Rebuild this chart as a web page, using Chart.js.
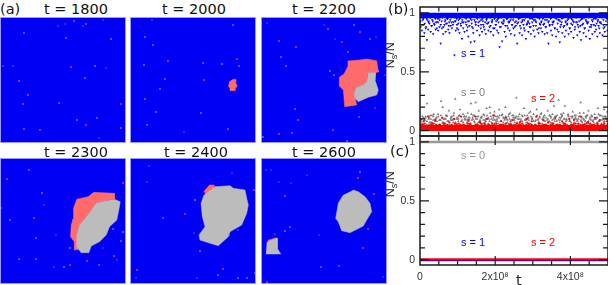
<!DOCTYPE html>
<html>
<head>
<meta charset="utf-8">
<script src="https://cdn.jsdelivr.net/npm/chart.js@4/dist/chart.umd.min.js"></script>
<style>
    html, body { margin: 0; background: #fff; }
    #page { position: relative; width: 611px; height: 285px; overflow: hidden; }
    canvas { position: absolute; }
    .lbl { position: absolute; white-space: nowrap; font-family: "DejaVu Sans"; color: #111; line-height: 1; }
    .ttl { font-size: 14.5px; }
    .sl { font-family: "Liberation Sans"; font-size: 11px; }
    .ns { font-family: "Liberation Sans"; font-size: 12.5px; color: #222; transform: rotate(-90deg); transform-origin: center; }
    .ns sub { font-size: 9px; line-height: 0; }
</style>
</head>
<body>
<div id="page"></div>
<script>
// snapshot panels (a): cell positions in panel units, origin top left
const panelTimes = [1800, 2000, 2200, 2300, 2400, 2600];

const red1800 = [[74,4],[86,7],[28,78],[23,87],[121,87],[24,112],[40,113],[86,108],[19,64],[71,50]];
const purple1800 = [[58,9],[65,7],[83,9],[103,3],[106,51],[3,49],[13,49],[99,121]];
const lilac1800 = [[24,16],[66,21],[111,22],[95,49],[85,61],[59,86],[77,103],[97,101],[121,111]];

const blobRed2000 = [[99.3,64.7],[103.3,62.3],[105.7,62.3],[105.7,66.3],[107.3,69],[105.3,71.3],[105,73.7],[100.7,73.7],[100,71.3],[98.3,69]];
const red2000 = [[38,44],[98,112],[74,63],[107,42]];
const purple2000 = [[22,3],[54,115]];
const lilac2000 = [[15,20],[23,28],[14,48],[35,62],[30,72],[15,82],[26,95],[17,108],[103,8],[73,46],[92,47],[109,49],[71,96]];

const blobRed2200 = [[86.7,44],[98.3,43],[105.7,42],[115.7,43.7],[116.7,51.3],[118,54.7],[114.7,55.7],[107.3,55.7],[105.7,64.7],[102.3,68],[95.7,70.3],[93,76.3],[95.7,88],[83.7,89.7],[82.3,73],[78.3,69],[78.3,60.3],[83,57],[86.7,49.7]];
const blobGrey2200 = [[107.3,55.7],[114.7,55.7],[114,63],[117.3,73],[115.7,78],[107.3,80.3],[97.3,84.7],[94,81.3],[93,76.3],[95.7,70.3],[102.3,68],[105.7,64.7]];
const red2200 = [[67,12],[99,15],[81,25],[35,30],[18,24],[37,103],[18,117],[72,113]];
const purple2200 = [[6,6],[63,8],[115,20],[74,22],[124,58],[114,91]];
const lilac2200 = [[93,8],[109,22],[87,35],[20,40],[25,49],[69,54],[73,58],[34,92],[98,100],[31,116],[2,120],[86,124]];

const blobRed2300 = [[93.5,34.3],[114.5,35.3],[114.5,41.3],[106.2,42.7],[96.2,45.3],[87.8,57],[79.5,67],[76.8,77],[79.5,91.3],[74.8,92],[74.2,83.7],[70.5,78.7],[71.2,67],[73.5,60.3],[73.5,50.3],[76.8,41.3],[87.8,38.7]];
const blobGrey2300 = [[114.5,41.3],[120.2,43.7],[118.8,52],[116.8,62],[109.5,68.7],[106.2,77],[99.5,83.7],[91.2,88],[88.8,94.7],[81.2,94.7],[76.8,88.7],[76.8,77],[79.5,67],[87.8,57],[96.2,45.3],[106.2,42.7]];
const red2300 = [[42,35],[34,60],[70,107],[87,103],[114,98],[123,25],[7,21]];
const purple2300 = [[44,47],[56,77],[54,109],[103,90],[117,102]];
const lilac2300 = [[29,12],[10,62],[36,80],[19,101],[36,101],[64,109],[99,107],[113,71],[123,74],[121,83],[1,50],[70,90],[73,62]];

const blobRed2400 = [[79.3,27],[84,27],[85.7,32],[81.7,37],[76,37],[74,33]];
const blobGrey2400 = [[85,28.7],[100,27.7],[103.3,30.3],[115,32],[116.7,40.3],[118.3,47],[116.7,55.3],[111.7,67],[100,73.7],[98.3,78.7],[88.3,87.7],[80,85.3],[70,82],[69,77],[75,68.7],[72.3,58.7],[71,45.3],[74,37]];
const red2400 = [[55,56],[7,112],[93,111],[70,93],[124,32]];
const purple2400 = [[19,8],[17,24],[64,75],[102,15],[67,120],[6,120],[108,72]];
const lilac2400 = [[33,60],[65,42],[88,117],[108,120],[125,115],[99,77],[117,120]];

const blobRed2600 = [[7.3,82],[15.7,79.7],[16.3,83],[10.7,83.7],[5.7,85.3]];
const blobGrey2600 = [[92.3,32],[97.3,33.7],[104,38.7],[109,45.3],[110.7,53.7],[105.7,62],[102.3,68],[89,74.7],[80.7,72.7],[77.3,63.7],[74.7,60.3],[77.3,45.3],[82.3,37]];
const blobGreySmall2600 = [[5.7,84.7],[10.7,82],[16.3,80.3],[16.3,90.3],[19.7,96],[5,96]];
const red2600 = [[24,38],[97,20],[113,36],[107,71],[102,90],[6,124]];
const purple2600 = [[5,12],[18,24],[30,25],[46,17],[14,76],[58,77],[122,119],[10,12]];
const lilac2600 = [[99,14],[29,69],[24,73],[60,109],[78,108]];

// time series (b), one value per regular sample over 0..5e8
const nBlueA = [.88,.85,.90,.83,.87,.77,.86,.91,.84,.89,.82,.90,.86,.92,.85,.88,.74,.87,.82,.90,.84,.91,.86,.83,.89,.87,.92,.64,.85,.90,.86,.83,.91,.78,.87,.84,.92,.85,.80,.89,.75,.88,.83,.76,.90,.85,.92,.81,.87,.84,.90,.86,.82,.91,.85,.88,.84,.92,.81,.87,.90,.85,.83,.71,.88,.76,.91,.84,.80,.89,.92,.85,.82,.90,.87,.81,.89,.74,.92,.83,.87,.81,.90,.85,.78,.91,.84,.88,.82,.92,.85,.80,.89,.86,.83,.91,.87,.84,.90,.82,.88,.83,.74,.90,.85,.81,.92,.87,.80,.86,.84,.75,.90,.83,.88,.80,.85,.91,.82,.87,.84,.90,.79,.86,.92,.81,.88,.84,.77,.90,.83,.87,.80,.91,.85,.78,.88,.82,.90,.84,.86,.80,.89,.83,.91,.81,.87,.84,.90,.85];
const nBlueB = [.93,.90,.95,.91,.88,.94,.92,.96,.89,.93,.91,.95,.87,.92,.94,.90,.96,.88,.93,.91,.95,.89,.94,.92,.90,.96,.93,.87,.91,.95,.89,.94,.92,.96,.90,.88,.93,.95,.91,.87,.94,.92,.96,.89,.93,.90,.95,.88,.92,.94,.91,.96,.89,.93,.87,.95,.90,.94,.92,.88,.96,.91,.93,.89,.95,.87,.92,.94,.90,.96,.88,.93,.91,.95,.89,.92,.94,.87,.96,.90,.93,.91,.88,.95,.89,.94,.92,.96,.87,.90,.93,.95,.91,.88,.94,.92,.89,.96,.90,.93,.87,.95,.91,.94,.88,.92,.96,.89,.93,.90,.95,.87,.91,.94,.92,.88,.96,.90,.93,.89,.95,.91,.87,.94,.92,.96,.88,.90,.93,.95,.89,.91,.94,.87,.92,.96,.90,.88,.93,.95];
const nBlueC = [.96,.94,.97,.95,.93,.96,.94,.97,.92,.95,.96,.93,.97,.94,.95,.92,.96,.97,.93,.95,.94,.96,.92,.97,.95,.93,.96,.94,.97,.92,.95,.96,.94,.93,.97,.95,.92,.96,.94,.97,.93,.95,.96,.92,.94,.97,.95,.93,.96,.94,.92,.97,.95,.96,.93,.94,.97,.92,.95,.96,.94,.93,.97,.95,.92,.96,.94,.97,.93,.95,.92,.96,.97,.94,.93,.95,.96,.92,.94,.97,.95,.93,.96,.92,.97,.94,.95,.96,.93,.92,.97,.94,.96,.95,.93,.92,.97,.94,.96,.95];

const nGreyA = [.09,.12,.08,.11,.23,.10,.13,.07,.12,.09,.11,.14,.09,.25,.20,.10,.13,.08,.17,.11,.09,.13,.27,.10,.12,.18,.08,.14,.10,.12,.15,.09,.23,.11,.13,.24,.10,.17,.08,.12,.14,.09,.19,.11,.20,.10,.13,.16,.09,.12,.18,.08,.14,.11,.20,.10,.12,.15,.09,.13,.11,.28,.10,.14,.08,.12,.19,.10,.13,.09,.16,.11,.14,.08,.18,.10,.12,.15,.09,.13,.11,.17,.08,.12,.14,.21,.10,.13,.26,.09,.12,.15,.21,.10,.14,.08,.12,.16,.10,.13,.09,.12,.24,.11,.15,.08,.13,.17,.10,.12,.09,.14,.11,.19,.08,.13,.10,.18,.12,.16];
const nGreyB = [.07,.10,.06,.09,.12,.08,.05,.11,.07,.13,.09,.06,.10,.08,.12,.05,.09,.11,.07,.06,.10,.13,.08,.05,.09,.12,.07,.10,.06,.11,.08,.13,.05,.09,.07,.12,.10,.06,.08,.11,.05,.09,.13,.07,.10,.06,.12,.08,.11,.05,.09,.07,.10,.13,.06,.08,.12,.05,.11,.09,.07,.10,.06,.13,.08,.05,.11,.09,.12,.07,.06,.10,.08,.13,.05,.09,.11,.07,.12,.06,.10,.08,.05,.13,.09,.07,.11,.06,.12,.10,.08,.05,.09,.13,.07,.11,.06,.10,.12,.08,.05,.09,.07,.13,.11,.06,.10,.08,.12,.05,.09,.07,.11,.13,.06,.10,.08,.05,.12,.09,.07,.11,.06,.13,.10,.08,.05,.12,.09,.07,.10,.06,.11,.13,.08,.05,.09,.12,.07,.10,.06,.11,.08,.13,.05,.09,.07,.12,.10,.06];
const nGreyC = [.08,.06,.11,.09,.05,.12,.07,.10,.06,.14,.08,.11,.05,.09,.13,.07,.10,.06,.12,.08,.05,.11,.09,.15,.07,.06,.10,.13,.08,.05,.12,.09,.07,.11,.06,.14,.10,.08,.05,.12,.07,.09,.11,.06,.13,.08,.05,.10,.15,.07,.09,.06,.12,.08,.11,.05,.13,.07,.10,.06,.09,.14,.08,.05,.11,.07,.12,.06,.10,.08,.13,.05,.09,.07,.11,.15,.06,.10,.08,.05,.12,.09,.07,.14,.06,.11,.08,.05,.10,.13,.07,.09,.06,.12,.08,.05,.11,.14,.07,.10,.06,.09,.13,.08,.05,.12,.07,.11,.06,.10,.15,.08,.05,.09,.12,.07,.06,.11,.13,.08,.05,.10,.07,.14,.09,.06,.12,.08,.11,.05];

const nRedA = [.05,.08,.04,.12,.05,.06,.09,.04,.05,.11,.06,.04,.07,.05,.10,.04,.06,.12,.05,.04,.09,.06,.04,.12,.05,.07,.04,.06,.10,.05,.04,.13,.06,.04,.08,.05,.11,.04,.06,.09,.05,.04,.07,.06,.04,.10,.05,.08,.04,.12,.06,.04,.09,.05,.07,.04,.06,.11,.05,.04,.08,.06,.04,.10,.05,.09,.04,.06,.12,.05,.04,.07,.06,.04,.11,.05,.09,.04,.06,.08];
const nRedB = [.04,.05,.06,.04,.03,.05,.06,.04,.05,.03,.05,.04,.06,.03,.05,.04,.04,.03,.06,.05,.04,.05,.03,.05,.04,.06,.05,.03,.04,.05,.05,.03,.06,.04,.05,.03,.05,.04,.06,.05,.03,.04,.05,.05,.03,.06,.04,.05,.05,.03,.04,.06,.05,.05,.03,.04,.05,.06,.03,.05,.04,.05,.03,.06,.04,.05,.05,.03,.04,.05,.06,.03,.05,.04,.05,.03,.06,.05,.04,.03,.05,.05,.06,.04,.03,.05,.04,.05,.06,.03,.04,.05,.05,.03,.06,.04,.05,.05,.03,.04];

// saturated bands of panel (b), too dense to tell single points apart
const bandT = [0, 5e8];
const bandBlue = [.978, .978];
const bandRed = [.022, .022];

// panel (c), the three fractions stay flat
const tFlat = [0, 1e8, 2e8, 3e8, 4e8, 5e8];
const nGreyFlat = [1, 1, 1, 1, 1, 1];
const nBlueFlat = [-.004, -.004, -.004, -.004, -.004, -.004];
const nRedFlat = [.004, .004, .004, .004, .004, .004];

const yLabelTicks = [0, .5, 1];
const yMinorTicks = [0, .1, .2, .3, .4, .5, .6, .7, .8, .9, 1];
const xLabelTicks = [0, 2e8, 4e8];
const xMinorTicks = [.5e8, 1e8, 1.5e8, 2e8, 2.5e8, 3e8, 3.5e8, 4e8, 4.5e8];
const xTickLabels = ['0', '2x10⁸', '4x10⁸'];

const page = document.getElementById('page');

function addCanvas(left, top, w, h) {
    let c = document.createElement('canvas');
    c.width = w;
    c.height = h;
    c.style.left = left + 'px';
    c.style.top = top + 'px';
    c.style.width = w + 'px';
    c.style.height = h + 'px';
    page.appendChild(c);
    return c;
}

function addText(html, cls, left, top, color) {
    let d = document.createElement('div');
    d.className = 'lbl ' + cls;
    d.innerHTML = html;
    d.style.left = left + 'px';
    d.style.top = top + 'px';
    if (color) d.style.color = color;
    page.appendChild(d);
    return d;
}

const panelBack = {
    id: 'panelBack',
    beforeDatasetsDraw(chart) {
        let a = chart.chartArea, ctx = chart.ctx;
        ctx.save();
        ctx.fillStyle = '#0000f5';
        ctx.fillRect(a.left, a.top, a.width, a.height);
        ctx.restore();
    },
    afterDatasetsDraw(chart) {
        let a = chart.chartArea, ctx = chart.ctx;
        ctx.save();
        ctx.strokeStyle = '#9a9aff';
        ctx.lineWidth = 1;
        ctx.strokeRect(a.left + .5, a.top + .5, a.width - 1, a.height - 1);
        ctx.restore();
    }
};

const frameTicks = {
    id: 'frameTicks',
    afterDatasetsDraw(chart) {
        let a = chart.chartArea, ctx = chart.ctx;
        let x = chart.scales.x, y = chart.scales.y;
        ctx.save();
        ctx.strokeStyle = '#1a1a1a';
        ctx.lineWidth = 1.2;
        ctx.beginPath();
        xMinorTicks.forEach(function (v) {
            let px = x.getPixelForValue(v);
            let len = xLabelTicks.includes(v) ? 9 : 4.5;
            ctx.moveTo(px, a.top);
            ctx.lineTo(px, a.top + len);
            ctx.moveTo(px, a.bottom);
            ctx.lineTo(px, a.bottom - len);
        });
        yMinorTicks.forEach(function (v) {
            let py = y.getPixelForValue(v);
            let len = yLabelTicks.includes(v) ? 9 : 5;
            ctx.moveTo(a.left, py);
            ctx.lineTo(a.left + len, py);
            ctx.moveTo(a.right, py);
            ctx.lineTo(a.right - len, py);
        });
        ctx.stroke();
        ctx.lineWidth = 1.5;
        ctx.strokeRect(a.left, a.top, a.width, a.height);
        ctx.restore();
    }
};

function toXY(pairs) {
    return pairs.map(function (p) { return {x: p[0], y: p[1]}; });
}

function blobSet(pairs, color) {
    return {
        data: toXY(pairs), showLine: true, fill: 'shape', backgroundColor: color,
        borderColor: color, borderWidth: .5, pointRadius: 0
    };
}

function speckSet(pairs, color) {
    return {data: toXY(pairs), pointStyle: 'rect', pointRadius: 1.2, borderWidth: 0, backgroundColor: color};
}

function latticeChart(left, top, greys, reds, specks) {
    let sets = [
        speckSet(specks[0], '#f0505a'),
        speckSet(specks[1], '#6038d8'),
        speckSet(specks[2], '#8080ff')
    ];
    greys.forEach(function (g) { sets.push(blobSet(g, '#bcbcbc')); });
    reds.forEach(function (r) { sets.push(blobSet(r, '#ff6a6a')); });
    new Chart(addCanvas(left, top, 126, 126), {
        type: 'scatter',
        data: {datasets: sets},
        plugins: [panelBack],
        options: {
            responsive: false,
            animation: false,
            layout: {padding: 0, autoPadding: false},
            plugins: {legend: {display: false}, tooltip: {enabled: false}},
            scales: {
                x: {display: false, min: 0, max: 126},
                y: {display: false, min: 0, max: 126, reverse: true}
            }
        }
    });
}

latticeChart(0, 17, [], [], [red1800, purple1800, lilac1800]);
latticeChart(130, 17, [], [blobRed2000], [red2000, purple2000, lilac2000]);
latticeChart(261, 17, [blobGrey2200], [blobRed2200], [red2200, purple2200, lilac2200]);
latticeChart(0, 158, [blobGrey2300], [blobRed2300], [red2300, purple2300, lilac2300]);
latticeChart(130, 158, [blobGrey2400], [blobRed2400], [red2400, purple2400, lilac2400]);
latticeChart(261, 158, [blobGrey2600, blobGreySmall2600], [blobRed2600], [red2600, purple2600, lilac2600]);

// regular sampling in time, the values stay as read
function sampled(values) {
    return values.map(function (v, i) { return {x: (i + .5) / values.length * 5e8, y: v}; });
}

function paired(ts, values) {
    return ts.map(function (t, i) { return {x: t, y: values[i]}; });
}

function marks(values, style, rot, radius, color) {
    return {
        data: sampled(values), pointStyle: style, rotation: rot, pointRadius: radius,
        borderWidth: 0, backgroundColor: color
    };
}

function flatLine(ts, values, width, color) {
    return {data: paired(ts, values), showLine: true, borderWidth: width, borderColor: color, pointRadius: 0};
}

function seriesChart(left, top, w, h, padTop, xHeight, showX, sets) {
    new Chart(addCanvas(left, top, w, h), {
        type: 'scatter',
        data: {datasets: sets},
        plugins: [frameTicks],
        options: {
            responsive: false,
            animation: false,
            layout: {padding: {top: padTop, left: 0, right: 0, bottom: 0}, autoPadding: false},
            plugins: {legend: {display: false}, tooltip: {enabled: false}},
            scales: {
                x: {
                    min: 0, max: 5e8,
                    grid: {display: false, drawTicks: false},
                    border: {display: false},
                    afterBuildTicks: function (s) { s.ticks = xLabelTicks.map(function (v) { return {value: v}; }); },
                    afterFit: function (s) { s.height = xHeight; s.paddingLeft = 0; s.paddingRight = 0; },
                    ticks: {
                        display: showX, maxRotation: 0, autoSkip: false, padding: 6, color: '#333',
                        font: {family: 'Liberation Sans', size: 10.5},
                        callback: function (v) { return xTickLabels[xLabelTicks.indexOf(v)]; }
                    }
                },
                y: {
                    min: -.045, max: 1.05,
                    grid: {display: false, drawTicks: false},
                    border: {display: false},
                    afterBuildTicks: function (s) { s.ticks = yLabelTicks.map(function (v) { return {value: v}; }); },
                    afterFit: function (s) { s.width = 25; s.paddingTop = 0; s.paddingBottom = 0; },
                    ticks: {
                        autoSkip: false, padding: 5, color: '#333',
                        font: {family: 'Liberation Sans', size: 10.5},
                        callback: function (v) { return String(v); }
                    }
                }
            }
        }
    });
}

seriesChart(395, 0, 213, 140, 7, 4, false, [
    flatLine(bandT, bandRed, 6, '#ff0000'),
    marks(nRedA, 'circle', 0, 1.1, '#ff0000'),
    marks(nRedB, 'circle', 0, 1.1, '#ff0000'),
    marks(nGreyA, 'triangle', 0, 1.5, '#787878'),
    marks(nGreyB, 'triangle', 0, 1.5, '#787878'),
    marks(nGreyC, 'triangle', 0, 1.5, '#787878'),
    flatLine(bandT, bandBlue, 5.5, '#0000ff'),
    marks(nBlueA, 'triangle', 180, 1.5, '#0000ff'),
    marks(nBlueB, 'triangle', 180, 1.5, '#0000ff'),
    marks(nBlueC, 'triangle', 180, 1.5, '#0000ff')
]);

seriesChart(395, 130, 213, 155, 6, 20, true, [
    flatLine(tFlat, nRedFlat, 2, '#ff0000'),
    flatLine(tFlat, nBlueFlat, 2, '#3000c0'),
    flatLine(tFlat, nGreyFlat, 2.5, '#999999')
]);

// panel titles and annotations
const titleLeft = [44, 162, 292, 44, 164, 292];
panelTimes.forEach(function (t, i) {
    addText('t = ' + t, 'ttl', titleLeft[i], i < 3 ? 2 : 145);
});
addText('(a)', 'ttl', 0, 2);
addText('(b)', 'ttl', 388, 2);
addText('(c)', 'ttl', 390, 144);
addText('N<sub>s</sub>/N', 'ns', 377, 49);
addText('N<sub>s</sub>/N', 'ns', 377, 178);
addText('t', 'ttl', 516, 273, '#222');
addText('s = 1', 'sl', 461, 48, '#0000ff');
addText('s = 0', 'sl', 461, 87, '#808080');
addText('s = 2', 'sl', 531, 93, '#ff0000');
addText('s = 0', 'sl', 461, 150, '#999999');
addText('s = 1', 'sl', 461, 237, '#0000ff');
addText('s = 2', 'sl', 531, 237, '#ff0000');
</script>
</body>
</html>
